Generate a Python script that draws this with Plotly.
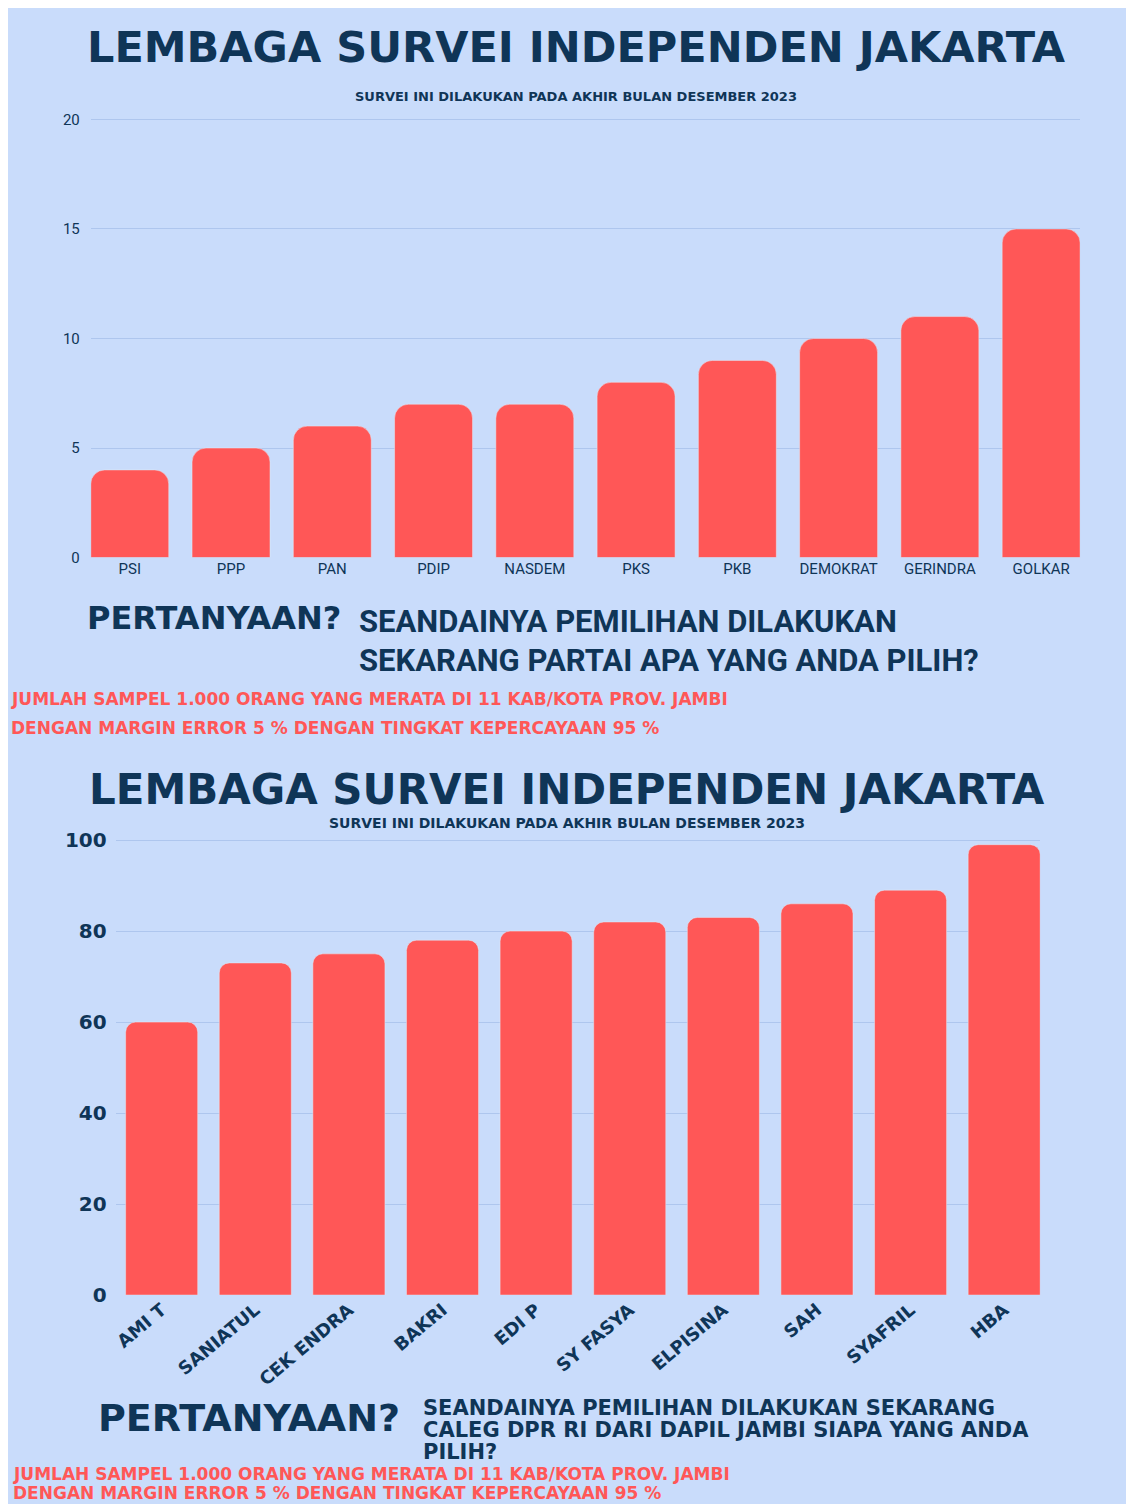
import plotly.graph_objects as go
from plotly.subplots import make_subplots

partai = ["PSI", "PPP", "PAN", "PDIP", "NASDEM", "PKS", "PKB", "DEMOKRAT", "GERINDRA", "GOLKAR"]
suara_partai = [4, 5, 6, 7, 7, 8, 9, 10, 11, 15]

caleg = ["AMI T", "SANIATUL", "CEK ENDRA", "BAKRI", "EDI P", "SY FASYA", "ELPISINA", "SAH", "SYAFRIL", "HBA"]
suara_caleg = [60, 73, 75, 78, 80, 82, 83, 86, 89, 99]

OFF = 8
W, H = 1134 - 2 * OFF, 1512 - 2 * OFF
NAVY = "#0f3557"
RED = "#ff5757"
BG = "#c9dcfb"

fig = make_subplots(rows=2, cols=1)
fig.add_trace(go.Bar(x=partai, y=suara_partai, marker=dict(color=RED, cornerradius=14)), row=1, col=1)
fig.add_trace(go.Bar(x=caleg, y=suara_caleg, marker=dict(color=RED, cornerradius=10)), row=2, col=1)

def px_(x): return (x - OFF) / W
# the page comes out slightly squeezed vertically; undo that
def py_(y): return 1 - ((y - 11.9) / 0.984 - OFF) / H

fig.update_layout(
    width=W, height=H, margin=dict(l=0, r=0, t=0, b=0),
    paper_bgcolor=BG, plot_bgcolor=BG, showlegend=False, bargap=0.23,
    xaxis=dict(domain=[px_(88), px_(1080)], range=[-0.385, 9.385],
               tickfont=dict(family="Roboto", size=15, color=NAVY), ticks="", showgrid=False),
    yaxis=dict(domain=[py_(558), py_(119)], range=[0, 20.05], tickvals=[0, 5, 10, 15, 20],
               tickfont=dict(family="Roboto", size=15, color=NAVY), gridcolor="#aec6ee",
               zeroline=False, ticklabelstandoff=10),
    xaxis2=dict(domain=[px_(113), px_(1040)], range=[-0.491, 9.385], tickangle=-40,
                tickfont=dict(family="DejaVu Sans", size=18, color=NAVY, weight="bold"),
                ticks="", showgrid=False),
    yaxis2=dict(domain=[py_(1295), py_(839)], range=[0, 100.3], tickvals=[0, 20, 40, 60, 80, 100],
                tickfont=dict(family="DejaVu Sans", size=20, color=NAVY, weight="bold"),
                gridcolor="#aec6ee", zeroline=False, ticklabelstandoff=8),
)

def note(x, y, text, size, color=NAVY, family="DejaVu Sans", weight="bold", xanchor="center"):
    fig.add_annotation(x=px_(x), y=py_(y), xref="paper", yref="paper", text=text, showarrow=False,
                       xanchor=xanchor, yanchor="middle", align="left",
                       font=dict(family=family, size=size, color=color, weight=weight))

note(575, 48, "LEMBAGA SURVEI INDEPENDEN JAKARTA", 43)
note(575, 97, "SURVEI INI DILAKUKAN PADA AKHIR BULAN DESEMBER 2023", 13)
note(82, 618, "PERTANYAAN?", 32, xanchor="left")
note(355, 622, "SEANDAINYA PEMILIHAN DILAKUKAN", 31, xanchor="left", family="Roboto")
note(355, 661, "SEKARANG PARTAI APA YANG ANDA PILIH?", 31, xanchor="left", family="Roboto")
note(6, 699, "JUMLAH SAMPEL 1.000 ORANG YANG MERATA DI 11 KAB/KOTA PROV. JAMBI", 17, color=RED, xanchor="left")
note(6, 728, "DENGAN MARGIN ERROR 5 % DENGAN TINGKAT KEPERCAYAAN 95 %", 17, color=RED, xanchor="left")

note(565, 790, "LEMBAGA SURVEI INDEPENDEN JAKARTA", 42)
note(565, 823, "SURVEI INI DILAKUKAN PADA AKHIR BULAN DESEMBER 2023", 14)
note(93, 1418, "PERTANYAAN?", 38, xanchor="left")
note(419, 1408, "SEANDAINYA PEMILIHAN DILAKUKAN SEKARANG", 21, xanchor="left")
note(419, 1430, "CALEG DPR RI DARI DAPIL JAMBI SIAPA YANG ANDA", 21, xanchor="left")
note(419, 1452, "PILIH?", 21, xanchor="left")
note(8, 1474, "JUMLAH SAMPEL 1.000 ORANG YANG MERATA DI 11 KAB/KOTA PROV. JAMBI", 17, color=RED, xanchor="left")
note(8, 1493, "DENGAN MARGIN ERROR 5 % DENGAN TINGKAT KEPERCAYAAN 95 %", 17, color=RED, xanchor="left")

fig.write_html("out.html")
